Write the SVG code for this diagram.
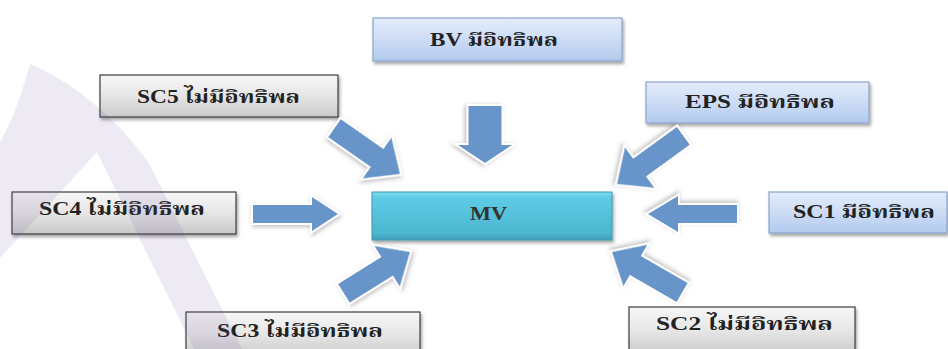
<svg xmlns="http://www.w3.org/2000/svg" width="948" height="349" viewBox="0 0 948 349">
  <defs>
    <linearGradient id="gGray" x1="0" y1="0" x2="0" y2="1">
      <stop offset="0" stop-color="#f7f7f7"/>
      <stop offset="0.5" stop-color="#e6e6e6"/>
      <stop offset="1" stop-color="#c9c9c9"/>
    </linearGradient>
    <linearGradient id="gBlue" x1="0" y1="0" x2="0" y2="1">
      <stop offset="0" stop-color="#e3ecfb"/>
      <stop offset="0.5" stop-color="#cddcf5"/>
      <stop offset="1" stop-color="#b2caef"/>
    </linearGradient>
    <linearGradient id="gTeal" x1="0" y1="0" x2="0" y2="1">
      <stop offset="0" stop-color="#7fdcf0"/>
      <stop offset="0.12" stop-color="#5ecbe4"/>
      <stop offset="0.85" stop-color="#4db6d0"/>
      <stop offset="1" stop-color="#3f9fb8"/>
    </linearGradient>
    <filter id="boxShadow" x="-10%" y="-20%" width="120%" height="150%">
      <feDropShadow dx="1.5" dy="2.5" stdDeviation="1.8" flood-color="#000" flood-opacity="0.35"/>
    </filter>
    <filter id="arrowGlow" x="-30%" y="-30%" width="160%" height="160%">
      <feDropShadow dx="1" dy="2" stdDeviation="2.2" flood-color="#777" flood-opacity="0.45"/>
    </filter>
  </defs>
  <style>
    .gray { fill: url(#gGray); stroke: #3c3c3c; stroke-width: 1.2; filter: url(#boxShadow); }
    .blue { fill: url(#gBlue); stroke: #8aa4c8; stroke-width: 1.2; filter: url(#boxShadow); }
    .teal { fill: url(#gTeal); stroke: #3c98b0; stroke-width: 1; filter: url(#boxShadow); }
    .lbl { font-family: "Liberation Serif", "Noto Serif Thai", "Noto Sans Thai", "Tlwg Typo", "Loma", serif; font-weight: bold; font-size: 18px; fill: #222; }
    .arrow { fill: #6895c9; stroke: #ffffff; stroke-width: 4; stroke-linejoin: miter; paint-order: stroke; filter: url(#arrowGlow); }
  </style>

  <rect width="948" height="349" fill="#ffffff"/>

  <!-- centre node -->
  <g id="node-mv">
    <rect class="teal" x="372" y="192" width="240" height="48"/>
    <text class="lbl" x="470" y="220" textLength="37" lengthAdjust="spacingAndGlyphs" style="fill:#333">MV</text>
  </g>

  <g id="node-bv">
    <rect class="blue" x="373" y="18" width="249" height="43"/>
    <text class="lbl" x="430" y="46" textLength="128" lengthAdjust="spacingAndGlyphs">BV มีอิทธิพล</text>
  </g>

  <g id="node-eps">
    <rect class="blue" x="646" y="82" width="223" height="41"/>
    <text class="lbl" x="685" y="108" textLength="150" lengthAdjust="spacingAndGlyphs">EPS มีอิทธิพล</text>
  </g>

  <g id="node-sc1">
    <rect class="blue" x="769" y="192" width="178" height="41"/>
    <text class="lbl" x="793" y="218" textLength="142" lengthAdjust="spacingAndGlyphs">SC1 มีอิทธิพล</text>
  </g>

  <g id="node-sc2">
    <rect class="gray" x="629" y="307" width="226" height="48"/>
    <text class="lbl" x="656" y="330" textLength="177" lengthAdjust="spacingAndGlyphs">SC2 ไม่มีอิทธิพล</text>
  </g>

  <g id="node-sc3">
    <rect class="gray" x="186" y="312" width="234" height="45"/>
    <text class="lbl" x="217" y="337" textLength="166" lengthAdjust="spacingAndGlyphs">SC3 ไม่มีอิทธิพล</text>
  </g>

  <g id="node-sc4">
    <rect class="gray" x="12" y="192" width="224" height="42"/>
    <text class="lbl" x="39" y="215" textLength="166" lengthAdjust="spacingAndGlyphs">SC4 ไม่มีอิทธิพล</text>
  </g>

  <g id="node-sc5">
    <rect class="gray" x="100" y="75" width="238" height="42"/>
    <text class="lbl" x="137" y="103" textLength="163" lengthAdjust="spacingAndGlyphs">SC5 ไม่มีอิทธิพล</text>
  </g>

  <!-- block arrows, each drawn pointing +x with its tip at the origin -->
  <g id="connectors">
    <polygon class="arrow" transform="translate(485,163) rotate(90)" points="-57,-16.5 -18,-16.5 -18,-27 0,0 -18,27 -18,16.5 -57,16.5"/>
    <polygon class="arrow" transform="translate(400,174) rotate(35)" points="-80,-11 -28,-11 -28,-25 0,0 -28,25 -28,11 -80,11"/>
    <polygon class="arrow" transform="translate(617,184) rotate(144)" points="-82,-11 -28,-11 -28,-25 0,0 -28,25 -28,11 -82,11"/>
    <polygon class="arrow" transform="translate(338,214)" points="-85,-9 -26,-9 -26,-17 0,0 -26,17 -26,9 -85,9"/>
    <polygon class="arrow" transform="translate(648,214) rotate(180)" points="-89,-9 -30,-9 -30,-18 0,0 -30,18 -30,9 -89,9"/>
    <polygon class="arrow" transform="translate(410,252) rotate(-32)" points="-78,-11 -27,-11 -27,-24 0,0 -27,24 -27,11 -78,11"/>
    <polygon class="arrow" transform="translate(612,252) rotate(210)" points="-81,-11 -27,-11 -27,-24 0,0 -27,24 -27,11 -81,11"/>
  </g>

  <!-- faint emblem behind the left side -->
  <path d="M 30,64 C 70,80 120,120 150,165 L 242,349 L 194,349 L 97,152 L 0,258 L 0,142 C 14,118 22,92 30,64 Z" fill="#6e50a0" fill-opacity="0.12"/>
</svg>
